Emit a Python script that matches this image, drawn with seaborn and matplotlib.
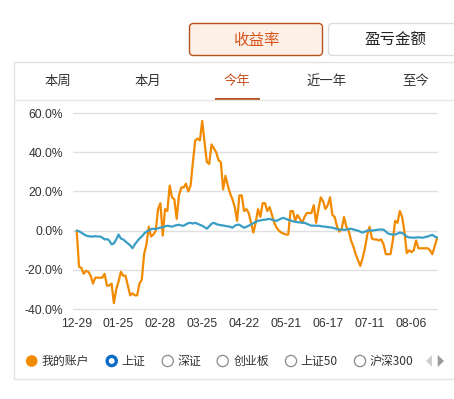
import numpy as np
import pandas as pd
import matplotlib
matplotlib.use("Agg")
import matplotlib.pyplot as plt
import seaborn as sns
from matplotlib.patches import FancyBboxPatch, Circle, Rectangle, Polygon

# ---------------- data ----------------
tick_labels = ["12-29", "01-25", "02-28", "03-25", "04-22", "05-21", "06-17", "07-11", "08-06"]
y_ticks = [-40, -20, 0, 20, 40, 60]

my_account = [
    0, -18.4, -19, -22, -20.5, -21, -23, -27, -24, -24,
    -24, -24, -22, -28, -28, -27, -37, -30, -26, -21,
    -23, -23, -28, -33, -32, -33, -33, -27, -25, -12,
    -7, 2, -3, -2, 0, 11, 14, -2.5, 11, 10,
    23, 17, 16, 6, 18, 22, 22, 24, 20, 23,
    35, 46, 47, 46, 56, 45, 35, 34, 44, 42,
    40, 36, 35, 21, 28, 23, 19, 16, 12, 5,
    18, 18, 10, 11, 9, 4, -1, 4, 11, 7,
    14, 14, 10, 12, 8, 4, 1.5, 0, -1, -1.5,
    -2, -2, 10, 10, 5, 8, 6, 4, 7, 9,
    9, 9, 13, 4, 11, 17, 15, 11, 13, 17,
    8, 7, 2, -0.5, 1, 7, 2, 0, -5, -8,
    -12, -15, -18, -14, -9, -2, 2, -4, -4.5, -4.5,
    -5, -4.5, -7, -12, -12, -12, -5, 5, 4, 10,
    7, -0.5, -11.5, -10, -11, -10, -5, -9, -9, -9,
    -9, -9, -10, -12, -8, -4,
]

shanghai = [
    0, -0.3, -1, -1.8, -2.5, -2.8, -3, -3, -2.8, -3,
    -3, -3.5, -4.5, -4.3, -5, -7, -6.5, -4.5, -2, -4,
    -4.5, -5.5, -6.5, -7.5, -9, -7, -5.5, -4, -3, -1.5,
    -0.5, 0, 0.8, 1, 0.8, 1.2, 1.5, 1.8, 2.2, 2.5,
    2.3, 2, 2.5, 2.8, 3, 2.6, 2.5, 3.2, 3.8, 4,
    3.6, 4, 3.5, 3, 2.5, 1.8, 1, 2.2, 3.5, 4,
    3.4, 3, 2.8, 2.6, 2.4, 2.2, 2, 1.5, 2.5, 3,
    3, 2.2, 1.5, 2, 2.5, 3.2, 3.8, 4.5, 5, 5.2,
    5.5, 5.6, 5.8, 6, 5.6, 5.2, 5, 5.6, 6.2, 6.5,
    6, 5.5, 5.2, 4.8, 4.5, 4.3, 4.2, 4, 4, 3.5,
    3, 2.5, 2.6, 2.5, 2.5, 2.3, 2.1, 2, 1.8, 1.7,
    1.5, 1.2, 0.8, 0.5, 0.6, 0.4, 0.5, 0.8, 1, 0.6,
    0.3, 0, -0.5, -1, -0.5, 0, 0.2, 0, 0.2, 0.4,
    0.5, 0.6, 0.5, -0.5, -1.5, -1.8, -2, -2, -1.5, -1,
    -1.2, -2, -3, -3.5, -3.5, -3.6, -3.5, -3.4, -3.5, -3.6,
    -3.2, -3, -2.5, -2.2, -3, -3.5,
]

tabs = ["本周", "本月", "今年", "近一年", "至今"]
legend_items = ["我的账户", "上证", "深证", "创业板", "上证50", "沪深300"]
buttons = ["收益率", "盈亏金额"]

ticks_every = 18
idx = np.arange(len(my_account))
df = pd.DataFrame({"idx": idx, "my_account": my_account, "shanghai": shanghai})

# ---------------- style ----------------
sns.set_theme(style="white")
plt.rcParams['font.family'] = ['Noto Sans CJK SC', 'DejaVu Sans']

ORANGE = "#f28a00"
BLUE = "#3a9ec4"
RING_BLUE = "#0b6cc6"
TXT = "#333333"
ACCENT = "#b5521c"

W, H = 454, 399
fig = plt.figure(figsize=(W / 100, H / 100), dpi=100)
fig.patch.set_facecolor("white")

# background "UI" axes in pixel coordinates
bg = fig.add_axes([0, 0, 1, 1])
bg.set_xlim(0, W)
bg.set_ylim(H, 0)
bg.axis("off")

# top buttons
bg.add_patch(FancyBboxPatch((189.5, 23.5), 133, 32, boxstyle="round,pad=0,rounding_size=4",
                            facecolor="#fdf0e7", edgecolor=ACCENT, lw=1.0))
bg.text(256, 40, buttons[0], ha="center", va="center", fontsize=11.2, color="#d9541a")
bg.add_patch(FancyBboxPatch((328.5, 23.5), 140, 32, boxstyle="round,pad=0,rounding_size=4",
                            facecolor="white", edgecolor="#dcdcdc", lw=1.0))
bg.text(395, 40.5, buttons[1], ha="center", va="center", fontsize=11.2, color="#222222")

# panel
bg.add_patch(Rectangle((13.5, 61.5), 460, 317.5, facecolor="none", edgecolor="#e3e3e3", lw=1.0))
bg.plot([13.5, 454], [100, 100], color="#e6e6e6", lw=1.0)

# tabs
tab_x = [58.3, 148, 237.3, 327, 416]
for t, x in zip(tabs, tab_x):
    col = "#c4521c" if t == "今年" else TXT
    bg.text(x, 81, t, ha="center", va="center", fontsize=9.6, color=col)
bg.add_patch(Rectangle((215, 97.5), 45, 2.8, facecolor=ACCENT, edgecolor="none"))

# legend row
circ_x = [31.7, 111.7, 167.7, 222.7, 291, 360]
text_x = [41.7, 121.7, 177.3, 233.3, 300.7, 370]
ly = 361
for i, (name, cx, tx) in enumerate(zip(legend_items, circ_x, text_x)):
    if i == 0:
        bg.add_patch(Circle((cx, ly), 5.8, facecolor=ORANGE, edgecolor="none"))
    elif i == 1:
        bg.add_patch(Circle((cx, ly), 4.6, facecolor="white", edgecolor=RING_BLUE, lw=2.4))
    else:
        bg.add_patch(Circle((cx, ly), 5.6, facecolor="white", edgecolor="#8a8a8a", lw=0.9))
    bg.text(tx, ly, name, ha="left", va="center", fontsize=8.6, color=TXT)
bg.add_patch(Polygon([(426, 361), (432, 355), (432, 367)], closed=True, facecolor="#cfcfcf", edgecolor="none"))
bg.add_patch(Polygon([(437.7, 355), (437.7, 367), (444, 361)], closed=True, facecolor="#9a9a9a", edgecolor="none"))

# ---------------- chart ----------------
px_left, px_right = 73, 438
px_top, px_bot = 111.1, 311.0
ax = fig.add_axes([px_left / W, (H - px_bot) / H, (px_right - px_left) / W, (px_bot - px_top) / H])
ax.set_facecolor("none")

sns.lineplot(data=df, x="idx", y="my_account", ax=ax, color=ORANGE, lw=1.6, zorder=3)
sns.lineplot(data=df, x="idx", y="shanghai", ax=ax, color=BLUE, lw=1.6, zorder=4)

n = len(my_account)
step = (437 - 76.7) / (n - 1)
ax.set_xlim(-(76.7 - px_left) / step, (n - 1) + (px_right - 437) / step)
ax.set_ylim(-41, 61)

ax.set_yticks(y_ticks)
ax.set_yticklabels([f"{v:.1f}%" for v in y_ticks], family=["Liberation Sans", "DejaVu Sans"],
                   fontsize=8.7, color=TXT)
ax.set_xticks(idx[::ticks_every][:len(tick_labels)])
ax.set_xticklabels(tick_labels, family=["Liberation Sans", "DejaVu Sans"], fontsize=8.7, color=TXT)
ax.tick_params(axis="both", length=0)
ax.tick_params(axis="y", pad=7)
ax.tick_params(axis="x", pad=5)
ax.set_xlabel("")
ax.set_ylabel("")
ax.grid(axis="y", color="#e0e0e0", lw=1.0)
ax.grid(axis="x", visible=False)
for s in ax.spines.values():
    s.set_visible(False)

fig.savefig("out.png", dpi=100, facecolor="white")
